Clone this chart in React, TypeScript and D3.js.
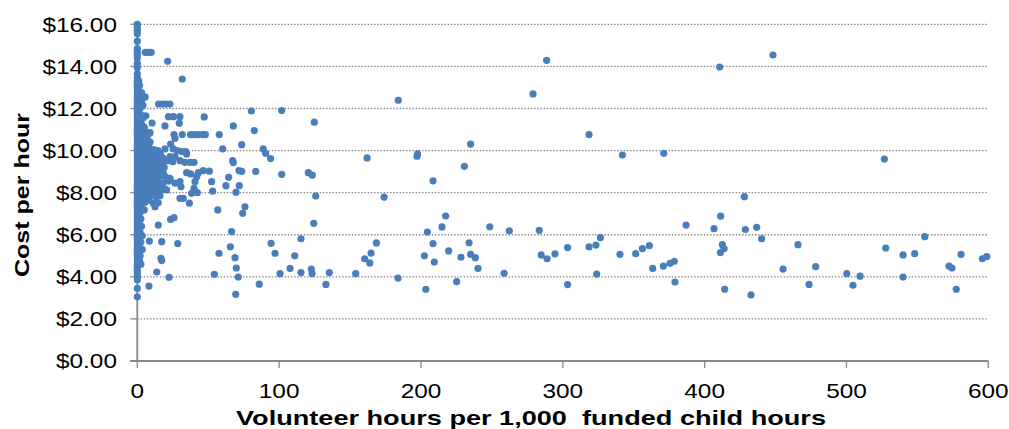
import React from "react";
import * as d3 from "d3";

// ---- data ----
const yTicks = [0, 2, 4, 6, 8, 10, 12, 14, 16];
const xTicks = [0, 100, 200, 300, 400, 500, 600];
const xTitle = "Volunteer hours per 1,000\u00a0\u00a0funded child hours";
const yTitle = "Cost per hour";

// Programs with zero volunteer hours (cost per hour)
const zeroVolunteerCosts = [
  16.0, 15.85, 15.7, 15.55, 15.2, 14.85, 14.7, 14.55, 14.4, 14.15, 13.95, 13.65,
  13.45, 13.3, 13.15, 13.0, 12.85, 12.7, 12.55, 12.4, 12.25, 12.1, 11.95, 11.8,
  11.65, 11.5, 11.35, 11.2, 11.05, 10.9, 10.75, 10.6, 10.45, 10.3, 10.15, 10.0,
  9.85, 9.7, 9.55, 9.4, 9.25, 9.1, 8.95, 8.8, 8.65, 8.5, 8.35, 8.2, 8.05, 7.9,
  7.75, 7.6, 7.45, 7.3, 7.15, 7.0, 6.85, 6.7, 6.55, 6.4, 6.25, 6.1, 5.95, 5.8,
  5.65, 5.5, 5.35, 5.2, 5.05, 4.9, 4.75, 4.6, 4.45, 4.3, 4.15, 4.0, 3.85, 3.45, 3.05,
];

// Low volunteer-hour programs [volunteer hours, cost]
const lowVolunteer: [number, number][] = [
  [1, 13.3], [1.5, 13.1], [1, 12.9], [3, 12.75], [2, 12.6], [3.1, 12.56], [5.5, 12.55],
  [3.5, 12.45], [1.5, 12.3], [4, 12.15], [2, 12.0], [1, 11.85], [2.5, 11.7], [6, 11.65],
  [4.2, 11.6], [4, 11.55], [1.5, 11.4], [3, 11.25], [5, 11.1], [1, 11.0], [1, 10.95],
  [2.5, 10.85], [4, 10.75], [6, 10.9], [1.5, 10.6], [3, 10.5], [5, 10.45], [7, 10.55],
  [9, 10.4], [2, 10.3], [4, 10.25], [6, 10.35], [8, 10.2],
  [1, 10.15], [2.5, 10.1], [4, 10.05], [5.5, 10.12], [7, 10.0], [8.5, 10.08], [10, 9.95],
  [11.5, 10.05], [13, 9.9], [14.5, 10.0], [16, 9.85], [1.5, 9.85], [3, 9.8], [4.5, 9.9],
  [6, 9.75], [7.5, 9.85], [9, 9.7], [10.5, 9.8], [12, 9.65], [13.5, 9.75], [15, 9.6],
  [17, 9.7], [1, 9.55], [2.5, 9.5], [4, 9.6], [5.5, 9.45], [7, 9.55], [8.5, 9.4],
  [10, 9.5], [11.5, 9.35], [13, 9.45], [14.5, 9.3], [16, 9.4], [18, 9.5], [1.5, 9.25],
  [3, 9.2], [4.5, 9.3], [6, 9.15], [7.5, 9.25], [9, 9.1], [10.5, 9.2], [12, 9.05],
  [14, 9.15], [16, 9.0], [19, 9.2], [1, 8.95], [2.5, 8.9], [4, 8.85], [5.5, 8.95],
  [7, 8.8], [8.5, 8.9], [10, 8.75], [12, 8.85], [14, 8.7], [17, 8.8], [20, 8.75],
  [1.5, 8.6], [3, 8.55], [4.5, 8.65], [6, 8.5], [7.5, 8.6], [9, 8.45], [11, 8.55],
  [13, 8.4], [15, 8.5], [18, 8.45], [22, 8.55], [1, 8.3], [2.5, 8.25], [4, 8.35],
  [5.5, 8.2], [7, 8.3], [8.5, 8.15], [10, 8.25], [12, 8.1], [14, 8.2], [16, 8.05],
  [19, 8.2], [1.5, 8.0], [3, 7.95], [4.5, 8.05], [6, 7.9], [7.5, 8.0], [9, 7.85],
  [11, 7.95], [13, 7.8], [16, 7.85], [1, 7.7], [2.5, 7.6], [4, 7.75], [5.5, 7.55],
  [7.3, 7.65], [8, 7.65], [11.3, 7.5], [12.5, 7.33], [14.8, 7.52], [1.5, 7.4], [3, 7.3],
  [4.9, 7.18], [2, 7.05], [1, 6.9], [2.5, 6.75], [1.5, 6.55], [3, 6.4], [1, 6.25],
  [2, 6.1], [3.5, 5.95], [1, 5.8], [2.5, 5.65], [1.5, 5.45], [3.5, 5.3], [1, 5.15],
  [2, 5.0], [1.5, 4.8], [2.5, 4.6],
  [5.6, 14.67], [7.5, 14.67], [9.8, 14.67], [10.4, 11.31], [7.8, 10.79], [9, 10.85],
];

// Moderate volunteer-hour programs
const midVolunteer: [number, number][] = [
  [21.4, 14.24], [31.7, 13.4], [15, 12.21], [17.5, 12.21], [20, 12.21], [23, 12.21],
  [22, 11.61], [25.5, 11.61], [30, 11.61], [19.5, 11.17], [29.6, 11.3], [47.2, 11.6],
  [80.4, 11.88], [67.7, 11.17], [82.5, 10.95], [57.8, 10.76], [37.5, 10.76], [40, 10.76],
  [43, 10.76], [46, 10.76], [48, 10.76], [25.9, 10.76], [31.7, 10.76], [26.6, 10.58],
  [23.5, 10.31], [73.6, 10.28], [60.2, 10.08], [88.8, 10.08], [90.5, 9.87], [94, 9.62],
  [67.2, 9.52], [67.7, 9.43], [71.7, 9.05], [73.6, 9.01], [83.5, 9.01], [64.4, 8.73],
  [52.4, 8.52], [62.5, 8.33], [53.1, 8.07], [71.9, 8.33], [69.6, 8.02],
  [19.5, 10.08], [25.4, 10.08], [28.2, 10.0], [31.3, 9.95], [34.1, 9.95], [34.8, 9.84],
  [23.1, 9.71], [26.6, 9.71], [21.4, 9.52], [25, 9.47], [30.1, 9.52], [33.6, 9.44],
  [37.2, 9.44], [40, 9.44], [18.3, 9.63], [16, 9.87], [13.7, 9.08], [18.3, 8.92],
  [23.1, 8.68], [26.6, 8.45], [30.1, 8.52], [16, 8.37], [20.7, 8.13], [13.7, 7.97],
  [34.8, 8.95], [37.6, 8.89], [43, 8.95], [41.9, 8.76], [46.5, 9.05], [50.8, 9.02],
  [40.7, 8.52], [30.1, 7.73], [32.4, 7.73], [36.7, 7.5], [38.3, 7.97], [42.3, 8.0],
  [40, 8.2], [30.8, 8.28], [56.7, 7.18], [74.3, 7.02], [75.9, 7.33], [66.5, 6.15],
  [14.8, 6.46], [23.5, 6.73], [25.9, 6.81], [8.5, 5.7], [17.2, 5.67], [28.5, 5.58],
  [16.7, 4.88], [17.2, 4.77], [13.7, 4.23], [22.4, 3.98], [8.2, 3.56], [57.6, 5.12],
  [54.3, 4.12], [65.6, 5.43], [68.9, 4.91], [69.8, 4.42], [71.2, 3.99], [69.4, 3.17],
  [86, 3.65], [94.3, 5.59], [97.1, 5.12],
];

// High volunteer-hour programs
const highVolunteer: [number, number][] = [
  [101.8, 11.9], [124.8, 11.35], [184, 12.39], [279, 12.69], [288.6, 14.29],
  [318.5, 10.76], [342, 9.79], [235, 10.31], [162, 9.65], [197.2, 9.73], [197.6, 9.84],
  [230.6, 9.25], [208.5, 8.56], [101.8, 8.87], [120.6, 8.95], [123.4, 8.83],
  [125.8, 7.84], [174, 7.79], [371.2, 9.87], [410.6, 13.97], [448.2, 14.54],
  [526.7, 9.6], [428, 7.81],
  [100.6, 4.15], [107.7, 4.4], [111, 5.0], [115.4, 5.81], [115.4, 4.2], [122.7, 4.37],
  [123.2, 4.15], [124.4, 6.54], [133, 3.64], [135.4, 4.2], [154, 4.15], [160.3, 4.86],
  [163.9, 4.66], [164.8, 5.13], [168.6, 5.61], [183.8, 3.94], [202.4, 5.0],
  [203.4, 3.41], [204.5, 6.13], [208.5, 5.58], [209.4, 4.7], [214.8, 6.37],
  [217.4, 6.89], [219.5, 5.23], [225.2, 3.77], [228.2, 4.93], [233.9, 5.62],
  [235, 5.07], [238.3, 4.91], [240.2, 4.4], [248.5, 6.38], [258.6, 4.17], [262.3, 6.19],
  [283.4, 6.21], [284.8, 5.04], [288.9, 4.86], [294.5, 5.09], [303.4, 5.39],
  [303.4, 3.63], [318.5, 5.42], [323.4, 5.51], [323.9, 4.13], [326.5, 5.86],
  [340.3, 5.07], [351.4, 5.1], [356.1, 5.34], [361, 5.48], [363.4, 4.4],
  [370.9, 4.51], [375.6, 4.64], [378.6, 4.74], [379.1, 3.75], [386.9, 6.46],
  [406.6, 6.29], [411.3, 6.88], [412.5, 5.53], [413.7, 5.34], [411.1, 5.15],
  [414.1, 3.41], [428.7, 6.25], [432.7, 3.14], [436.7, 6.35], [440.2, 5.81],
  [455.3, 4.37], [465.8, 5.53], [473.6, 3.64], [478.3, 4.48], [500.2, 4.15],
  [504.6, 3.6], [509.6, 4.03], [527.7, 5.37], [539.9, 5.04], [539.9, 3.99],
  [548.1, 5.1], [555.2, 5.91], [572.3, 4.51], [574.4, 4.42], [577.4, 3.41],
  [580.8, 5.07], [595.8, 4.86], [598.9, 4.96],
];

// ---- layout ----
const W = 1009;
const H = 429;
const X0 = 137.3;
const X1 = 988.3;
const Y0 = 361;
const Y1 = 24.3;
const AXIS = "#898989";
const DOT = "#4A7EBB";
const FONT = "'Liberation Sans', Arial, sans-serif";
const STRETCH = 1.22;

export default function App() {
  const x = d3.scaleLinear().domain([0, 600]).range([X0, X1]);
  const y = d3.scaleLinear().domain([0, 16]).range([Y0, Y1]);

  const points: [number, number][] = [
    ...zeroVolunteerCosts.map((c) => [0, c] as [number, number]),
    ...lowVolunteer,
    ...midVolunteer,
    ...highVolunteer,
  ];
  const fmt = (v: number) => "$" + d3.format(".2f")(v);

  return (
    <svg
      width={W}
      height={H}
      style={{ position: "absolute", left: 0, top: 0, background: "#fff" }}
      fontFamily={FONT}
    >
      {/* gridlines */}
      {yTicks
        .filter((t) => t > 0)
        .map((t) => (
          <line
            key={"g" + t}
            x1={X0}
            x2={X1}
            y1={y(t)}
            y2={y(t)}
            stroke={AXIS}
            strokeWidth={1.3}
            strokeDasharray="1.5 1.7"
          />
        ))}
      {/* y axis */}
      <line x1={X0} x2={X0} y1={Y1} y2={Y0} stroke={AXIS} strokeWidth={1.8} />
      {yTicks.map((t) => (
        <line key={"yt" + t} x1={X0 - 7} x2={X0} y1={y(t)} y2={y(t)} stroke={AXIS} strokeWidth={1.3} />
      ))}
      {/* x axis */}
      <line x1={X0 - 7} x2={X1} y1={Y0} y2={Y0} stroke={AXIS} strokeWidth={1.8} />
      {xTicks.map((t) => (
        <line key={"xt" + t} x1={x(t)} x2={x(t)} y1={Y0} y2={Y0 + 7} stroke={AXIS} strokeWidth={1.3} />
      ))}
      {/* points */}
      {points.map((p, i) => (
        <circle key={"p" + i} cx={x(p[0])} cy={y(p[1])} r={3.6} fill={DOT} />
      ))}
      {/* y tick labels */}
      {yTicks.map((t) => (
        <text
          key={"yl" + t}
          transform={`translate(117,${y(t) + 7.3}) scale(${STRETCH},1)`}
          textAnchor="end"
          fontSize={20}
          fill="#000"
        >
          {fmt(t)}
        </text>
      ))}
      {/* x tick labels */}
      {xTicks.map((t) => (
        <text
          key={"xl" + t}
          transform={`translate(${x(t)},398) scale(${STRETCH},1)`}
          textAnchor="middle"
          fontSize={20}
          fill="#000"
        >
          {t}
        </text>
      ))}
      {/* axis titles */}
      <text
        x={531}
        y={425}
        textAnchor="middle"
        fontSize={20.5}
        fontWeight="bold"
        textLength={590}
        lengthAdjust="spacingAndGlyphs"
        fill="#000"
      >
        {xTitle}
      </text>
      <text
        transform="translate(29,195) rotate(-90)"
        textAnchor="middle"
        fontSize={21}
        fontWeight="bold"
        textLength={164}
        lengthAdjust="spacingAndGlyphs"
        fill="#000"
      >
        {yTitle}
      </text>
    </svg>
  );
}
